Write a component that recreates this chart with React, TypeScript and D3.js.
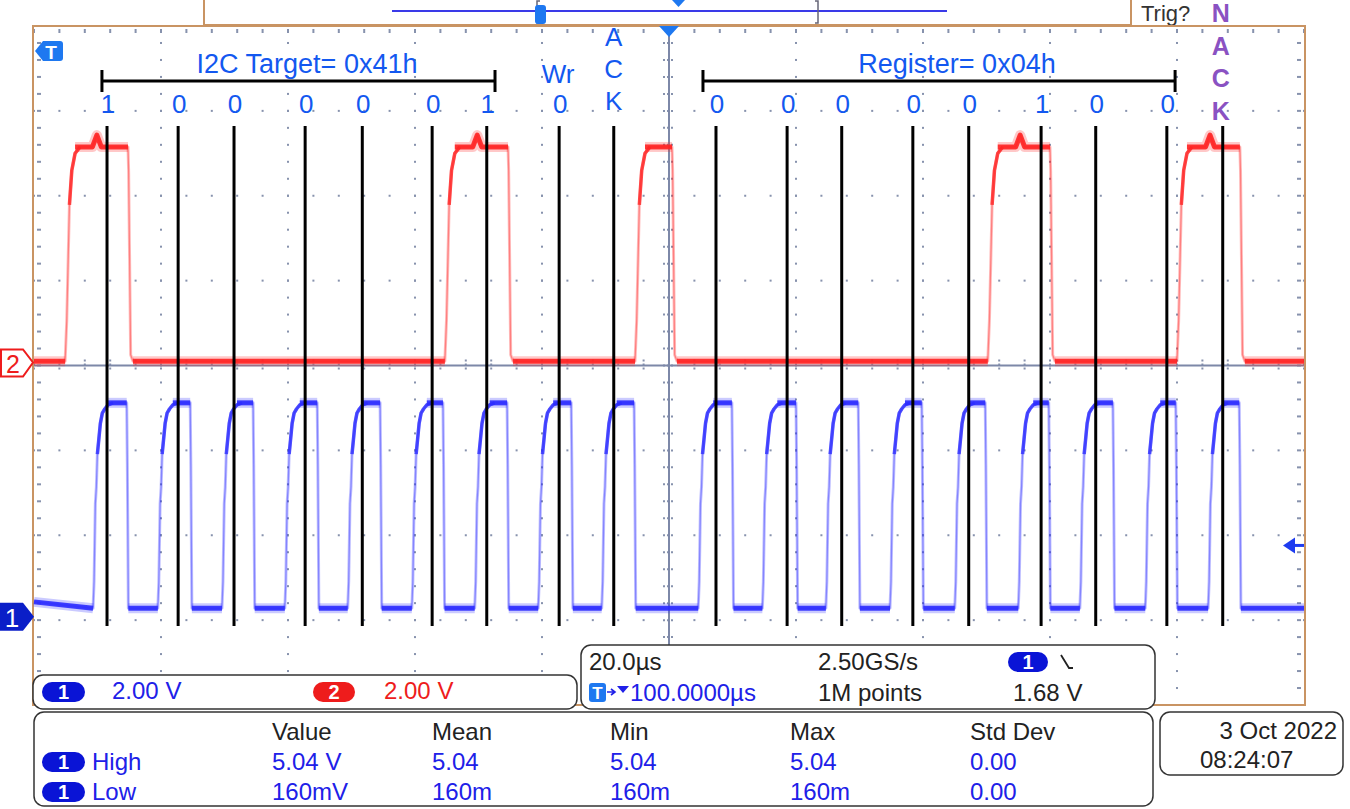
import React from "react";
import * as d3 from "d3";

// ---------- data (µs, volts) ----------
const SCL_RISE = [-90.7, -80.5, -70.4, -60.5, -50.6, -40.5, -30.6, -20.6, -10.6, 4.6, 14.7, 24.7, 34.8, 45.0, 55.0, 64.7, 75.0, 84.9];
const SCL_FALL = [-85.4, -75.4, -65.5, -55.4, -45.5, -35.6, -25.5, -15.4, -5.5, 9.9, 20.0, 29.8, 39.8, 49.8, 59.8, 69.9, 79.8, 89.8];
const SCL_LOW = 0.2;
const SCL_HIGH = 5.04;
const SCL_START_LOW = 0.35;
// rise shape: [µs after edge, fraction of swing]
const SCL_RISE_SHAPE: [number, number][] = [[0, 0], [0.16, 0.13], [0.36, 0.51], [0.52, 0.59], [0.68, 0.75], [0.9, 0.82], [1.15, 0.9], [1.46, 0.95], [1.84, 0.97], [2.36, 0.99], [3.15, 1]];
const SCL_FALL_SHAPE: [number, number][] = [[0, 1], [0.1, 0.7], [0.26, 0]];

const SDA_RISE = [-95.1, -35.3, -5.35, 50.2, 80.0];
const SDA_FALL = [-85.2, -25.35, 0.47, 60.0, 89.9];
const SDA_GLITCH = [-90.1, -30.2, 55.3, 85.2];
const SDA_LOW = 0.1;
const SDA_HIGH = 5.15;
const SDA_GLITCH_PEAK = 5.43;
const SDA_RISE_SHAPE: [number, number][] = [[0, 0], [0.26, 0.19], [0.68, 0.73], [1.05, 0.89], [1.57, 0.97], [2.36, 1]];
const SDA_FALL_SHAPE: [number, number][] = [[0, 1], [0.1, 0.89], [0.42, 0.03], [0.79, 0]];

const MARK_T = [-88.5, -77.3, -68.5, -57.3, -48.3, -37.3, -28.7, -17.3, -8.7, 7.4, 18.6, 27.2, 38.4, 47.2, 58.6, 67.2, 78.4, 87.2];
const BIT_LABELS = ["1", "0", "0", "0", "0", "0", "1", "0", "", "0", "0", "0", "0", "0", "1", "0", "0", ""];
const TARGET_SPAN = [-89.3, -27.4];
const REGISTER_SPAN = [5.35, 79.7];

const HEADERS = ["Value", "Mean", "Min", "Max", "Std Dev"];
const HIGH_ROW = ["5.04 V", "5.04", "5.04", "5.04", "0.00"];
const LOW_ROW = ["160mV", "160m", "160m", "160m", "0.00"];

// ---------- layout ----------
const W = 1350, H = 809;
const PL = 34, PR = 1304, PT = 26, PB = 705;
const CH1_OFFSET = 1.04; // divisions from bottom
const CH2_OFFSET = 4.0;
const VOLTS_PER_DIV = 2;

const x = d3.scaleLinear().domain([-100, 100]).range([PL, PR]);
const yDiv = d3.scaleLinear().domain([0, 8]).range([PB, PT]);
const y1 = (v: number) => yDiv(CH1_OFFSET + v / VOLTS_PER_DIV);
const y2 = (v: number) => yDiv(CH2_OFFSET + v / VOLTS_PER_DIV);

const FONT = "'Liberation Sans', Arial, Helvetica, sans-serif";
const BLUE_T = "#2c2cff";
const RED_T = "#ff2424";
const TXT_BLUE = "#2020e8";
const ANN_BLUE = "#1358f0";
const PILL_BLUE = "#0a14d6";
const GRID = "#8792ad";
const BORDER = "#c99463";
const FS = 24;

type P = [number, number];

function buildTrace(rises: number[], falls: number[], rs: P[], fs: P[], low: number, high: number, startLow: number, glitches: number[] = [], glitchPeak = 0): P[] {
  const pts: P[] = [[-100, startLow]];
  rises.forEach((r, i) => {
    const f = falls[i];
    rs.forEach(([dt, fr]) => pts.push([r + dt, low + fr * (high - low)]));
    glitches.filter(g => g > r && g < f).forEach(g => {
      pts.push([g - 0.7, high], [g, glitchPeak], [g + 0.7, high]);
    });
    fs.forEach(([dt, fr]) => pts.push([f + dt, low + fr * (high - low)]));
  });
  pts.push([100, low]);
  return pts;
}

const sclPts = buildTrace(SCL_RISE, SCL_FALL, SCL_RISE_SHAPE, SCL_FALL_SHAPE, SCL_LOW, SCL_HIGH, SCL_START_LOW);
const sdaPts = buildTrace(SDA_RISE, SDA_FALL, SDA_RISE_SHAPE, SDA_FALL_SHAPE, SDA_LOW, SDA_HIGH, SDA_LOW, SDA_GLITCH, SDA_GLITCH_PEAK);

function Trace({ pts, rises, falls, rs, fs, low, high, startLow, yf, color, glitches = [], glitchPeak = 0 }: any) {
  const line = d3.line<P>().x(d => x(d[0])).y(d => yf(d[1]));
  const segs: P[][] = [];
  let prevEnd = -100;
  let prevV = startLow;
  rises.forEach((r: number, i: number) => {
    segs.push([[prevEnd, prevV], [r, low]]);
    prevEnd = falls[i] + fs[fs.length - 1][0];
    prevV = low;
  });
  segs.push([[prevEnd, low], [100, low]]);
  const highs: P[][] = rises.map((r: number, i: number) => {
    const start = r + rs[rs.length - 2][0];
    const seg: P[] = [[start, high]];
    glitches.filter((g: number) => g > r && g < falls[i]).forEach((g: number) => seg.push([g - 0.7, high], [g, glitchPeak], [g + 0.7, high]));
    seg.push([falls[i], high]);
    return seg;
  });
  const tops: P[][] = rises.map((r: number) => rs.filter(([, f]: P) => f >= 0.7).map(([dt, f]: P) => [r + dt, low + f * (high - low)] as P));
  const flats = [...segs, ...highs];
  return (
    <g fill="none" strokeLinejoin="round">
      <path d={line(pts) || ""} stroke={color} strokeOpacity={0.3} strokeWidth={3} />
      <path d={line(pts) || ""} stroke={color} strokeOpacity={0.4} strokeWidth={1.2} />
      {tops.map((s, i) => <path key={"t" + i} d={line(s) || ""} stroke={color} strokeOpacity={0.8} strokeWidth={3.5} />)}
      {flats.map((s, i) => <path key={"fw" + i} d={line(s) || ""} stroke={color} strokeOpacity={0.25} strokeWidth={10} />)}
      {flats.map((s, i) => <path key={"fc" + i} d={line(s) || ""} stroke={color} strokeOpacity={0.9} strokeWidth={5} />)}
    </g>
  );
}

function Grid() {
  const dots: JSX.Element[] = [];
  const divX = (PR - PL) / 10;
  const divY = (PB - PT) / 8;
  for (let k = 1; k < 10; k++) {
    if (k === 5) continue;
    const gx = PL + k * divX;
    for (let j = 0; j <= 40; j++) {
      const gy = PT + (j * divY) / 5;
      dots.push(<rect key={`v${k}-${j}`} x={gx - 1} y={gy - 1} width={2} height={2} fill={GRID} />);
    }
  }
  for (let m = 1; m < 8; m++) {
    if (m === 4) continue;
    const gy = PT + m * divY;
    for (let i = 0; i <= 50; i++) {
      const gx = PL + (i * divX) / 5;
      dots.push(<rect key={`h${m}-${i}`} x={gx - 1} y={gy - 1} width={2} height={2} fill={GRID} />);
    }
  }
  for (let j = 0; j <= 40; j++) {
    const gy = PT + (j * divY) / 5;
    dots.push(<rect key={`el${j}`} x={PL + 3} y={gy - 1} width={4} height={2} fill={GRID} />);
    dots.push(<rect key={`er${j}`} x={PR - 7} y={gy - 1} width={4} height={2} fill={GRID} />);
  }
  for (let i = 0; i <= 50; i++) {
    const gx = PL + (i * divX) / 5;
    dots.push(<rect key={`et${i}`} x={gx - 1} y={PT + 3} width={2} height={4} fill={GRID} />);
  }
  const cx = PL + 5 * divX, cy = PT + 4 * divY;
  const ticks: JSX.Element[] = [];
  for (let j = 0; j <= 40; j++) {
    const gy = PT + (j * divY) / 5;
    ticks.push(<line key={`cv${j}`} x1={cx - 6} x2={cx + 6} y1={gy} y2={gy} stroke={GRID} strokeWidth={2} strokeDasharray="2 2" />);
  }
  for (let i = 0; i <= 50; i++) {
    const gx = PL + (i * divX) / 5;
    ticks.push(<line key={`ch${i}`} x1={gx} x2={gx} y1={cy - 6} y2={cy + 6} stroke={GRID} strokeWidth={2} strokeDasharray="2 2" />);
  }
  return (
    <g>
      {dots}
      {ticks}
      <line x1={cx} x2={cx} y1={PT} y2={PB} stroke="#7d88a8" strokeWidth={2} />
      <line x1={PL} x2={PR} y1={cy} y2={cy} stroke="#7d88a8" strokeWidth={2} />
    </g>
  );
}

function Pill({ px, py, w = 43, h = 20, fill = PILL_BLUE, label = "1" }: any) {
  return (
    <g>
      <rect x={px} y={py} width={w} height={h} rx={h / 2} fill={fill} />
      <text x={px + w / 2} y={py + h - 3} textAnchor="middle" fill="#fff" fontSize={20} fontWeight="bold" fontFamily={FONT}>{label}</text>
    </g>
  );
}

export default function App() {
  const tx = (s: string, px: number, py: number, fill = "#222", size = FS, anchor = "start") => (
    <text x={px} y={py} fill={fill} fontSize={size} fontFamily={FONT} textAnchor={anchor as any}>{s}</text>
  );
  const bracket = (span: number[], key: string) => {
    const a = x(span[0]), b = x(span[1]);
    return (
      <g key={key} stroke="#000" strokeWidth={3}>
        <line x1={a} x2={b} y1={81} y2={81} />
        <line x1={a} x2={a} y1={70} y2={92} />
        <line x1={b} x2={b} y1={70} y2={92} />
      </g>
    );
  };
  const cols = [272, 432, 610, 790, 970];
  return (
    <svg width={W} height={H} style={{ position: "absolute", left: 0, top: 0, background: "#fff" }}>
      <rect x={0} y={0} width={W} height={H} fill="#fff" />
      {/* record view bar */}
      <rect x={204} y={-2} width={927} height={27} fill="#fff" stroke={BORDER} strokeWidth={2} />
      <line x1={392} x2={947} y1={11} y2={11} stroke="#3a3ae8" strokeWidth={2} />
      <path d="M 540 1 L 537 1 L 537 23 L 540 23" fill="none" stroke="#667" strokeWidth={1.5} />
      <rect x={535} y={5} width={11} height={19} rx={3} fill="#1e78f0" />
      <path d="M 815 1 L 818 1 L 818 23 L 815 23" fill="none" stroke="#667" strokeWidth={1.5} />
      <path d="M 672 0 L 685 0 L 678.5 7 Z" fill="#1e78f0" />
      {tx("Trig?", 1141, 21, "#333", 22)}

      {/* plot */}
      <Grid />
      <rect x={PL - 1} y={PT} width={PR - PL + 2} height={PB - PT} fill="none" stroke={BORDER} strokeWidth={2} />

      <Trace pts={sdaPts} rises={SDA_RISE} falls={SDA_FALL} rs={SDA_RISE_SHAPE} fs={SDA_FALL_SHAPE} low={SDA_LOW} high={SDA_HIGH} startLow={SDA_LOW} yf={y2} color={RED_T} glitches={SDA_GLITCH} glitchPeak={SDA_GLITCH_PEAK} />
      <Trace pts={sclPts} rises={SCL_RISE} falls={SCL_FALL} rs={SCL_RISE_SHAPE} fs={SCL_FALL_SHAPE} low={SCL_LOW} high={SCL_HIGH} startLow={SCL_START_LOW} yf={y1} color={BLUE_T} />

      {/* annotation lines */}
      {MARK_T.map((t, i) => (
        <line key={"m" + i} x1={x(t)} x2={x(t)} y1={126} y2={626} stroke="#000" strokeWidth={3} />
      ))}
      {bracket(TARGET_SPAN, "b1")}
      {bracket(REGISTER_SPAN, "b2")}
      {tx("I2C Target= 0x41h", 307, 73, ANN_BLUE, 27, "middle")}
      {tx("Register= 0x04h", 957, 73, ANN_BLUE, 27, "middle")}
      {MARK_T.map((t, i) => BIT_LABELS[i] ? <g key={"bl" + i}>{tx(BIT_LABELS[i], x(t) + 1, 113, ANN_BLUE, 26, "middle")}</g> : null)}
      {tx("Wr", x(MARK_T[7]) - 1, 83, ANN_BLUE, 26, "middle")}
      {["A", "C", "K"].map((c, i) => <g key={"ack" + i}>{tx(c, x(MARK_T[8]), 46 + i * 32, ANN_BLUE, 26, "middle")}</g>)}
      {["N", "A", "C", "K"].map((c, i) => (
        <text key={"nack" + i} x={x(MARK_T[17]) - 2} y={22 + i * 32.5} fill="#8a52c2" fontSize={25} fontWeight="bold" fontFamily={FONT} textAnchor="middle">{c}</text>
      ))}

      {/* trigger markers */}
      <path d="M 35 51 L 43 41 L 60 41 Q 63 41 63 44 L 63 58 Q 63 61 60 61 L 43 61 Z" fill="#1e78f0" />
      <text x={51} y={59} textAnchor="middle" fill="#fff" fontSize={19} fontWeight="bold" fontFamily={FONT}>T</text>
      <path d={`M ${x(0) - 10} ${PT} L ${x(0) + 10} ${PT} L ${x(0)} ${PT + 11} Z`} fill="#1e78f0" />
      <path d={`M 1283 ${y1(1.68)} L 1295 ${y1(1.68) - 8} L 1295 ${y1(1.68) + 8} Z`} fill="#1e3cf0" />
      <line x1={1294} x2={1304} y1={y1(1.68)} y2={y1(1.68)} stroke="#1e3cf0" strokeWidth={3} />

      {/* channel markers */}
      <path d={`M 1 ${y2(0) - 16} L 23 ${y2(0) - 16} L 33 ${y2(0) - 3} L 23 ${y2(0) + 11} L 1 ${y2(0) + 11} Z`} fill="#fff" stroke="#ee1c1c" strokeWidth={2} />
      <text x={13} y={y2(0) + 7} textAnchor="middle" fill="#ee1c1c" fontSize={25} fontFamily={FONT}>2</text>
      <path d={`M 0 ${y1(0) - 14} L 23 ${y1(0) - 14} L 34 ${y1(0)} L 23 ${y1(0) + 14} L 0 ${y1(0) + 14} Z`} fill="#0a1ec8" />
      <text x={12} y={y1(0) + 10} textAnchor="middle" fill="#fff" fontSize={26} fontFamily={FONT}>1</text>

      {/* panel A: channel scales */}
      <rect x={33} y={675} width={544} height={34} rx={10} fill="#fff" stroke="#333" strokeWidth={1.5} />
      <Pill px={42} py={682} />
      {tx("2.00 V", 112, 699, TXT_BLUE)}
      <Pill px={313} py={682} w={42} fill="#ee1c1c" label="2" />
      {tx("2.00 V", 384, 699, "#ee1c1c")}

      {/* panel B: timebase */}
      <rect x={581} y={645} width={574} height={64} rx={10} fill="#fff" stroke="#333" strokeWidth={1.5} />
      {tx("20.0µs", 589, 670)}
      {tx("2.50GS/s", 818, 670)}
      <Pill px={1008} py={652} w={40} />
      <path d="M 1061 655 L 1069 668 L 1073 668" fill="none" stroke="#222" strokeWidth={1.8} />
      <rect x={589} y={683} width={17} height={19} rx={3} fill="#1e78f0" />
      <text x={597.5} y={699} textAnchor="middle" fill="#fff" fontSize={17} fontWeight="bold" fontFamily={FONT}>T</text>
      <path d="M 607 692 L 614 692 M 611 689 L 615 692 L 611 695" fill="none" stroke={TXT_BLUE} strokeWidth={1.6} />
      <path d="M 617 686 L 629 686 L 623 693 Z" fill={TXT_BLUE} />
      {tx("100.0000µs", 630, 701, TXT_BLUE)}
      {tx("1M points", 818, 701)}
      {tx("1.68 V", 1013, 701)}

      {/* panel C: measurements */}
      <rect x={34} y={712} width={1119} height={94} rx={10} fill="#fff" stroke="#333" strokeWidth={1.5} />
      {HEADERS.map((h, i) => <g key={"hd" + i}>{tx(h, cols[i], 740)}</g>)}
      <Pill px={42} py={752} />
      {tx("High", 92, 770, TXT_BLUE)}
      {HIGH_ROW.map((v, i) => <g key={"hr" + i}>{tx(v, cols[i], 770, TXT_BLUE)}</g>)}
      <Pill px={42} py={782} />
      {tx("Low", 92, 800, TXT_BLUE)}
      {LOW_ROW.map((v, i) => <g key={"lr" + i}>{tx(v, cols[i], 800, TXT_BLUE)}</g>)}

      {/* panel D: date */}
      <rect x={1160} y={712} width={183} height={63} rx={10} fill="#fff" stroke="#333" strokeWidth={1.5} />
      {tx("3 Oct  2022", 1337, 739, "#222", FS, "end")}
      {tx("08:24:07", 1200, 768)}
    </svg>
  );
}
